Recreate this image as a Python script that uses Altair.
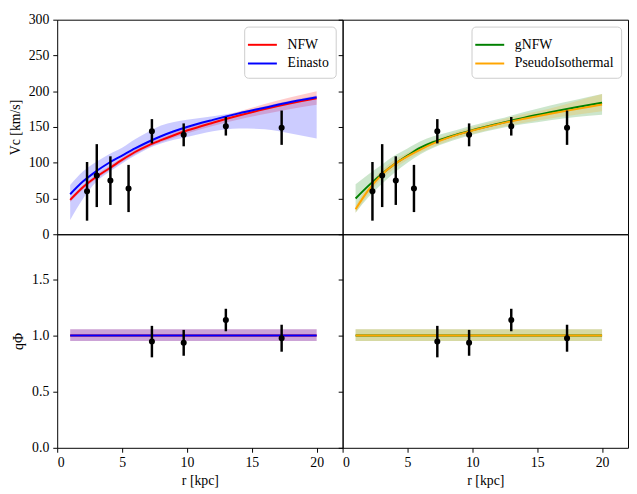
import altair as alt
import pandas as pd

# ---------------- data ----------------
r_grid = [1, 2, 3, 4, 5, 6, 7, 8, 9, 10, 12, 14, 16, 18, 20]

nfw_v = [48, 66, 80, 92, 104, 115, 124, 131.5, 138.5, 145, 156, 166, 175, 183, 190]
nfw_lo = [45, 63, 77, 89, 101, 112, 121, 128.5, 135, 141, 151.5, 160.5, 168, 175, 181]
nfw_hi = [51, 69, 83, 95, 107, 118, 127, 134.5, 142, 149, 160.5, 171.5, 182, 191.5, 200]

ein_v = [56, 74, 88, 100, 110, 120, 129, 137, 144, 150, 160, 169, 177, 185, 191.5]
ein_lo = [20, 50, 73, 87, 99, 110, 120, 127, 132, 136, 144, 148, 147, 141, 134]
ein_hi = [69, 88, 101, 112, 121, 133, 143, 152, 157, 160, 165, 171, 179, 187, 194]

gnfw_v = [50, 68, 84, 98, 110, 121, 129, 135, 140.5, 145.5, 154.5, 163, 170.5, 177.5, 184]
gnfw_lo = [30, 52, 70, 86, 100, 112, 121, 128, 134, 139, 147.5, 154, 159.5, 164, 167]
gnfw_hi = [70, 84, 97, 110, 120, 130, 137, 142, 147, 152, 161, 171, 180, 188, 196]

piso_v = [35, 62, 83, 98, 109, 118.5, 127, 134, 140, 145, 154, 161.5, 168.5, 175, 181.5]
piso_lo = [30, 56, 77, 92, 104, 114, 122.5, 129.5, 135.5, 140.5, 149, 156, 162, 167, 172]
piso_hi = [40, 68, 89, 104, 114, 123, 131.5, 138.5, 144.5, 149.5, 159, 168, 176, 186, 196]

q_r = [1, 20]
q_v = [1.0, 1.0]
q_lo = [0.95, 0.95]
q_hi = [1.055, 1.055]

obs_r = [2.3, 3.05, 4.1, 5.5, 7.3, 9.75, 13.0, 17.3]
obs_v = [60, 82, 75, 64, 144, 139, 151, 149]
obs_err = [41, 44, 34, 33, 17, 16, 13, 24]

obs_qr = [7.3, 9.75, 13.0, 17.3]
obs_q = [0.945, 0.934, 1.137, 0.975]
obs_qerr = [0.14, 0.115, 0.10, 0.12]

left_models = ["NFW", "Einasto"]
left_colors = ["#ff0000", "#0000ff"]
right_models = ["gNFW", "PseudoIsothermal"]
right_colors = ["#008000", "#ffa500"]

FONT = "Liberation Serif"
W = 290
H_TOP = 218
H_BOT = 217

curves = {
    "NFW": (nfw_v, nfw_lo, nfw_hi),
    "Einasto": (ein_v, ein_lo, ein_hi),
    "gNFW": (gnfw_v, gnfw_lo, gnfw_hi),
    "PseudoIsothermal": (piso_v, piso_lo, piso_hi),
}

obs_df = pd.DataFrame({"r": obs_r, "v": obs_v,
                       "lo": [v - e for v, e in zip(obs_v, obs_err)],
                       "hi": [v + e for v, e in zip(obs_v, obs_err)]})
obsq_df = pd.DataFrame({"r": obs_qr, "v": obs_q,
                        "lo": [v - e for v, e in zip(obs_q, obs_qerr)],
                        "hi": [v + e for v, e in zip(obs_q, obs_qerr)]})

xscale = alt.Scale(domain=[0, 22], nice=False, zero=False)


def top_panel(models, colors, first):
    yscale = alt.Scale(domain=[0, 300], nice=False)
    yaxis = alt.Axis(values=[0, 50, 100, 150, 200, 250, 300],
                     labels=first, title="Vc [km/s]" if first else None)
    x = alt.X("r:Q", scale=xscale, axis=None)
    frames = []
    for m in models:
        v, lo, hi = curves[m]
        frames.append(pd.DataFrame({"r": r_grid, "v": v, "lo": lo, "hi": hi, "model": m}))
    bands = [
        alt.Chart(f).mark_area(color=c, opacity=0.2, interpolate="monotone").encode(
            x=x, y=alt.Y("lo:Q", scale=yscale, axis=yaxis), y2="hi:Q")
        for f, c in zip(frames, colors)
    ]
    lines = alt.Chart(pd.concat(frames)).mark_line(strokeWidth=2, interpolate="monotone").encode(
        x=x,
        y=alt.Y("v:Q", scale=yscale, axis=yaxis),
        color=alt.Color("model:N", scale=alt.Scale(domain=models, range=colors),
                        legend=alt.Legend(title=None, orient="top-right", offset=7,
                                          fillColor="white", strokeColor="#cccccc",
                                          cornerRadius=4, padding=7,
                                          labelFont=FONT, labelFontSize=14,
                                          labelColor="black", labelOffset=14,
                                          symbolType="M-1.4,0L1.4,0",
                                          symbolStrokeWidth=2, symbolSize=441,
                                          rowPadding=0)),
        detail="model:N",
    )
    errs = alt.Chart(obs_df).mark_rule(color="black", strokeWidth=2.5).encode(
        x=x, y=alt.Y("lo:Q", scale=yscale, axis=yaxis), y2="hi:Q")
    pts = alt.Chart(obs_df).mark_circle(color="black", opacity=1, size=38).encode(
        x=x, y=alt.Y("v:Q", scale=yscale, axis=yaxis))
    return alt.layer(*bands, lines, errs, pts).properties(width=W, height=H_TOP)


def bottom_panel(models, colors, first):
    yscale = alt.Scale(domain=[0, 1.9], nice=False)
    yaxis = alt.Axis(values=[0, 0.5, 1.0, 1.5], format=".1f",
                     labels=first, title="qΦ" if first else None)
    x = alt.X("r:Q", scale=xscale,
              axis=alt.Axis(values=[0, 5, 10, 15, 20], title="r [kpc]", titlePadding=4))
    frames = [pd.DataFrame({"r": q_r, "v": q_v, "lo": q_lo, "hi": q_hi, "model": m})
              for m in models]
    seg = pd.DataFrame({"r": [q_r[0]] * len(models), "r2": [q_r[-1]] * len(models),
                        "v": [q_v[0]] * len(models), "model": models,
                        "rank": list(range(len(models)))})
    bands = [
        alt.Chart(f).mark_area(color=c, opacity=0.2).encode(
            x=x, y=alt.Y("lo:Q", scale=yscale, axis=yaxis), y2="hi:Q")
        for f, c in zip(frames, colors)
    ]
    lines = alt.Chart(seg).mark_rule(strokeWidth=2).encode(
        x=x, x2="r2:Q", y=alt.Y("v:Q", scale=yscale, axis=yaxis),
        color=alt.Color("model:N", scale=alt.Scale(domain=models, range=colors), legend=None),
        order=alt.Order("rank:Q", sort="ascending"),
    )
    errs = alt.Chart(obsq_df).mark_rule(color="black", strokeWidth=2.5).encode(
        x=x, y=alt.Y("lo:Q", scale=yscale, axis=yaxis), y2="hi:Q")
    pts = alt.Chart(obsq_df).mark_circle(color="black", opacity=1, size=38).encode(
        x=x, y=alt.Y("v:Q", scale=yscale, axis=yaxis))
    return alt.layer(*bands, lines, errs, pts).properties(width=W, height=H_BOT)


chart = alt.concat(
    top_panel(left_models, left_colors, True),
    top_panel(right_models, right_colors, False),
    bottom_panel(left_models, left_colors, True),
    bottom_panel(right_models, right_colors, False),
    columns=2, spacing=0, bounds="flush", background="white", padding=0,
).resolve_scale(
    color="independent", x="independent", y="independent"
).resolve_legend(
    color="independent"
).configure_view(
    stroke="black", strokeWidth=1
).configure_axis(
    domain=False, grid=False, tickColor="black", tickSize=4.5, tickWidth=1,
    labelFont=FONT, labelFontSize=14, labelColor="black", labelPadding=4,
    titleFont=FONT, titleFontSize=14, titleFontWeight="normal", titleColor="black",
    titlePadding=6,
)

chart.save("out.html", embed_options={"renderer": "svg", "actions": False})
